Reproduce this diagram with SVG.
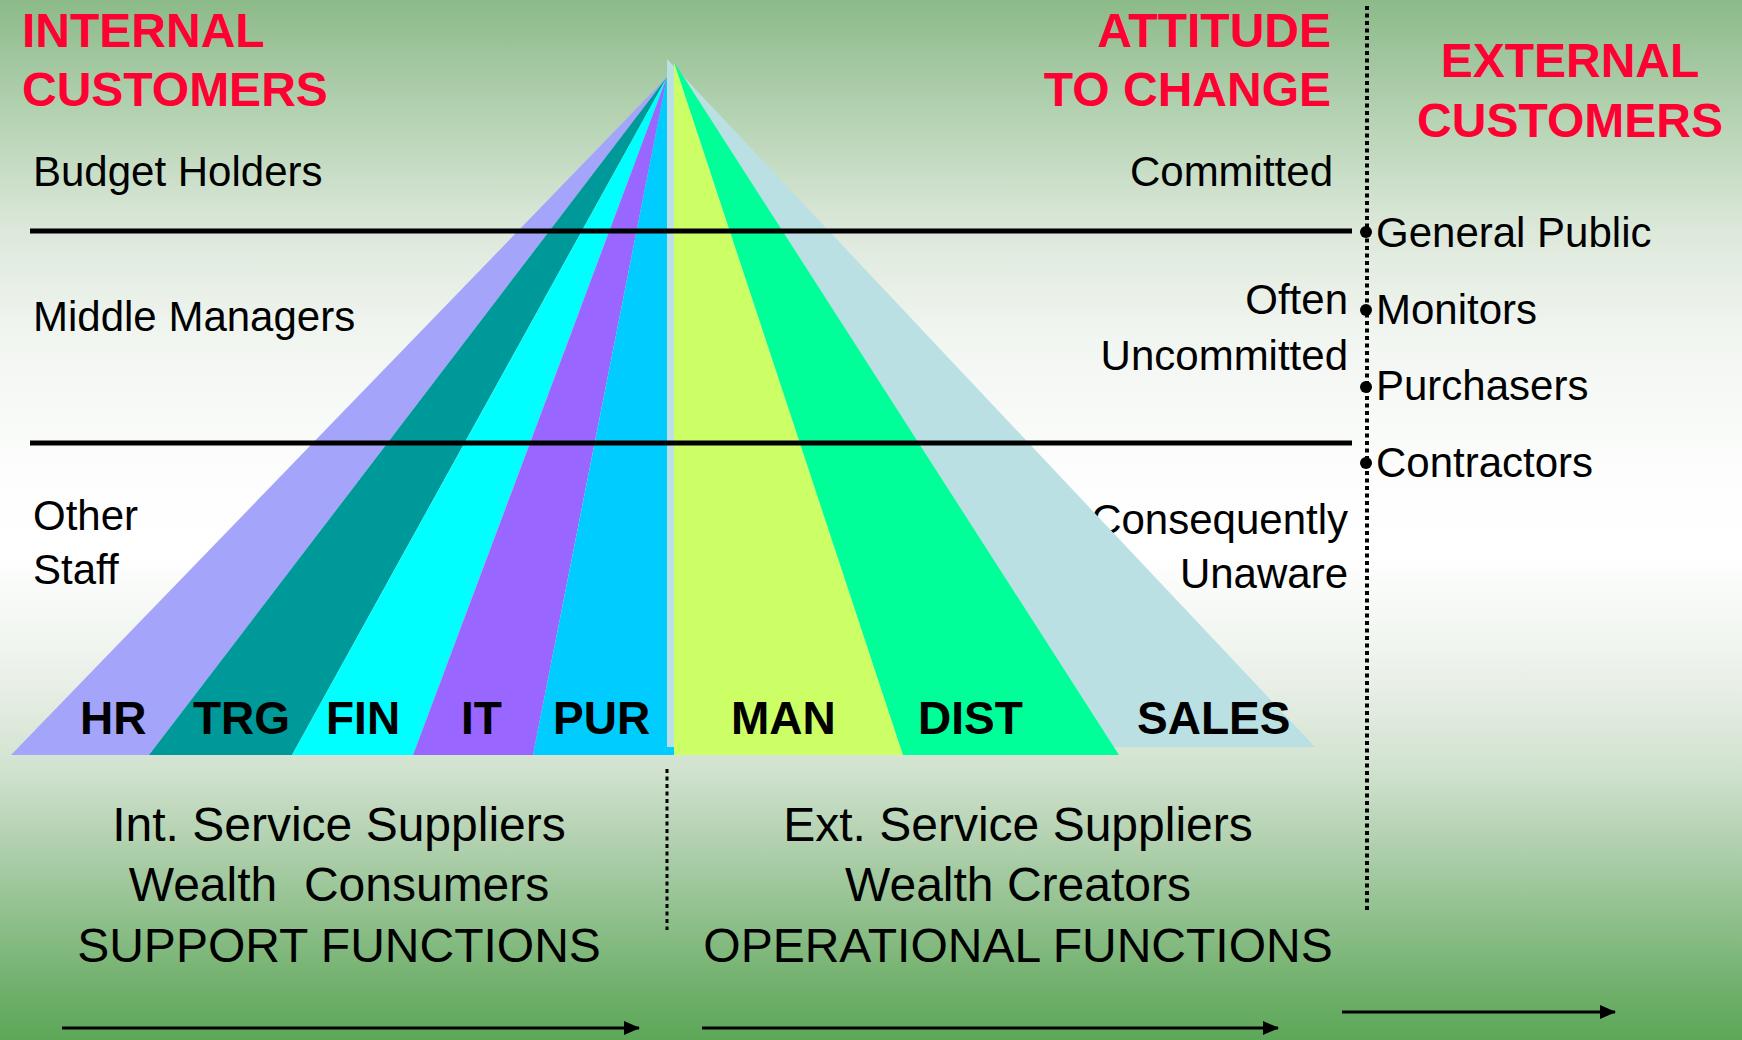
<svg xmlns="http://www.w3.org/2000/svg" width="1742" height="1040" viewBox="0 0 1742 1040">
  <defs>
    <linearGradient id="bg" x1="0" y1="0" x2="0" y2="1">
      <stop offset="0" stop-color="#8CBA89"/>
      <stop offset="0.11" stop-color="#B4D2B2"/>
      <stop offset="0.22" stop-color="#DCE8DA"/>
      <stop offset="0.32" stop-color="#F1F5F0"/>
      <stop offset="0.45" stop-color="#FCFDFC"/>
      <stop offset="0.53" stop-color="#FFFFFF"/>
      <stop offset="0.62" stop-color="#F0F5EF"/>
      <stop offset="0.66" stop-color="#E8EFE6"/>
      <stop offset="0.74" stop-color="#D1E2CF"/>
      <stop offset="0.83" stop-color="#A8CCA5"/>
      <stop offset="0.95" stop-color="#70B06C"/>
      <stop offset="1" stop-color="#5CA758"/>
    </linearGradient>
    <marker id="arrow" markerUnits="userSpaceOnUse" markerWidth="16" markerHeight="16" refX="15" refY="8" orient="auto">
      <path d="M0,1 L16,8 L0,15 Z" fill="#000"/>
    </marker>
  </defs>
  <style>
    .head { font-family: "Liberation Sans", Arial, sans-serif; font-weight: bold; font-size: 48px; fill: #FF0033; }
    .lbl { font-family: "Liberation Sans", Arial, sans-serif; font-size: 42px; fill: #000; }
    .foot { font-family: "Liberation Sans", Arial, sans-serif; font-size: 48px; fill: #000; text-anchor: middle; white-space: pre; }
    .band { font-family: "Liberation Sans", Arial, sans-serif; font-weight: bold; font-size: 46px; fill: #000; }
    .end { text-anchor: end; }
    .rule { stroke: #000; stroke-width: 5; fill: none; }
    .dots { stroke: #000; stroke-width: 4; stroke-dasharray: 4 3.5; fill: none; }
    .arr { stroke: #000; stroke-width: 3; fill: none; marker-end: url(#arrow); }
  </style>

  <rect x="0" y="0" width="1742" height="1040" fill="url(#bg)"/>

  <!-- column headings -->
  <g id="internal-customers">
    <text class="head" x="22" y="47">INTERNAL</text>
    <text class="head" x="22" y="106">CUSTOMERS</text>
  </g>
  <g id="attitude-to-change">
    <text class="head end" x="1331" y="47">ATTITUDE</text>
    <text class="head end" x="1331" y="106">TO CHANGE</text>
  </g>
  <g id="external-customers">
    <text class="head" x="1570" y="77" text-anchor="middle">EXTERNAL</text>
    <text class="head" x="1570" y="137" text-anchor="middle">CUSTOMERS</text>
  </g>

  <!-- staff levels -->
  <g id="budget-holders"><text class="lbl" x="33" y="186">Budget Holders</text></g>
  <g id="middle-managers"><text class="lbl" x="33" y="331">Middle Managers</text></g>
  <g id="other-staff">
    <text class="lbl" x="33" y="530">Other</text>
    <text class="lbl" x="33" y="584">Staff</text>
  </g>

  <!-- attitudes -->
  <g id="committed"><text class="lbl end" x="1333" y="186">Committed</text></g>
  <g id="often-uncommitted">
    <text class="lbl end" x="1348" y="314">Often</text>
    <text class="lbl end" x="1348" y="370">Uncommitted</text>
  </g>
  <g id="consequently-unaware">
    <text class="lbl end" x="1348" y="534">Consequently</text>
    <text class="lbl end" x="1348" y="588">Unaware</text>
  </g>

  <!-- pyramid of functions -->
  <g id="pyramid">
    <polygon id="band-sales" points="667,59 1315,747 667,747" fill="#BBE0E3"/>
    <polygon id="band-hr" points="667,77 11,755 149,755" fill="#A4A4FA"/>
    <polygon id="band-trg" points="667,77 149,755 292,755" fill="#009999"/>
    <polygon id="band-fin" points="667,77 292,755 413,755" fill="#00FFFF"/>
    <polygon id="band-it" points="667,77 413,755 533,755" fill="#9966FF"/>
    <polygon id="band-pur" points="667,77 533,755 674,755 674,747 667,747" fill="#00CCFF"/>
    <polygon id="band-man" points="674,62 903,755 674,755" fill="#CCFF66"/>
    <polygon id="band-dist" points="674,62 1119,755 903,755" fill="#00FF99"/>
  </g>

  <g id="band-labels">
    <text class="band" x="80" y="734">HR</text>
    <text class="band" x="193" y="734">TRG</text>
    <text class="band" x="326" y="734">FIN</text>
    <text class="band" x="461" y="734">IT</text>
    <text class="band" x="553" y="734">PUR</text>
    <text class="band" x="731" y="734">MAN</text>
    <text class="band" x="918" y="734">DIST</text>
    <text class="band" x="1137" y="734">SALES</text>
  </g>

  <!-- external customer list -->
  <g id="general-public"><circle cx="1366" cy="232" r="6"/><text class="lbl" x="1376" y="247">General Public</text></g>
  <g id="monitors"><circle cx="1366" cy="310" r="6"/><text class="lbl" x="1376" y="324">Monitors</text></g>
  <g id="purchasers"><circle cx="1366" cy="387" r="6"/><text class="lbl" x="1376" y="400">Purchasers</text></g>
  <g id="contractors"><circle cx="1366" cy="463" r="6"/><text class="lbl" x="1376" y="477">Contractors</text></g>

  <!-- supplier groups -->
  <g id="support-functions">
    <text class="foot" x="339" y="841">Int. Service Suppliers</text>
    <text class="foot" x="339" y="901">Wealth  Consumers</text>
    <text class="foot" x="339" y="962">SUPPORT FUNCTIONS</text>
  </g>
  <g id="operational-functions">
    <text class="foot" x="1018" y="841">Ext. Service Suppliers</text>
    <text class="foot" x="1018" y="901">Wealth Creators</text>
    <text class="foot" x="1018" y="962">OPERATIONAL FUNCTIONS</text>
  </g>

  <!-- dividers and arrows -->
  <g id="connectors">
    <line class="rule" x1="30" y1="231" x2="1352" y2="231"/>
    <line class="rule" x1="30" y1="443" x2="1352" y2="443"/>
    <line class="dots" x1="1367" y1="6" x2="1367" y2="913"/>
    <line class="dots" x1="667" y1="769" x2="667" y2="930" style="stroke-width:3"/>
    <line class="arr" x1="62" y1="1028" x2="639" y2="1028"/>
    <line class="arr" x1="702" y1="1028" x2="1278" y2="1028"/>
    <line class="arr" x1="1342" y1="1012" x2="1615" y2="1012"/>
  </g>
</svg>
